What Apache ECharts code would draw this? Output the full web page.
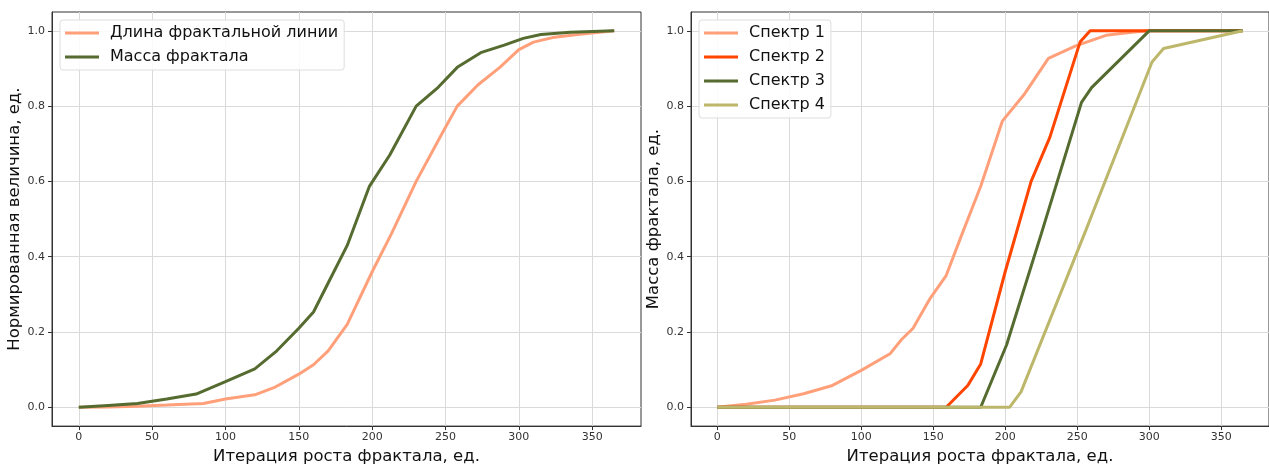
<!DOCTYPE html>
<html>
<head>
<meta charset="utf-8">
<script src="https://cdn.jsdelivr.net/npm/echarts@6/dist/echarts.min.js"></script>
<style>
html, body { margin: 0; padding: 0; background: #fff; }
#chart { width: 1269px; height: 470px; }
</style>
</head>
<body>
<div id="chart"></div>
<script>
// ticks
const xTicks = [0, 50, 100, 150, 200, 250, 300, 350];
const yTicks = [0, 0.2, 0.4, 0.6, 0.8, 1.0];

// left: normalized values
const lengthX = [0, 20, 40, 60, 85, 100, 120, 133, 150, 160, 170, 183, 200, 213, 230, 248, 258, 272, 287, 300, 310, 323, 340, 365];
const lengthY = [0, 0.001, 0.003, 0.006, 0.01, 0.022, 0.033, 0.052, 0.088, 0.113, 0.15, 0.22, 0.36, 0.46, 0.6, 0.73, 0.8, 0.856, 0.903, 0.95, 0.97, 0.982, 0.99, 1.0];
const massX = [0, 20, 40, 60, 80, 100, 120, 135, 150, 160, 170, 183, 198, 212, 230, 245, 258, 274, 290, 303, 315, 335, 365];
const massY = [0, 0.005, 0.01, 0.022, 0.035, 0.068, 0.102, 0.15, 0.21, 0.253, 0.33, 0.43, 0.586, 0.67, 0.8, 0.85, 0.903, 0.942, 0.962, 0.98, 0.99, 0.996, 1.0];

// right: spectra
const spec1X = [0, 20, 40, 60, 80, 100, 120, 128, 136, 148, 159, 170, 183, 198, 213, 230, 249, 270, 288, 300, 365];
const spec1Y = [0, 0.008, 0.019, 0.036, 0.058, 0.098, 0.142, 0.18, 0.21, 0.29, 0.35, 0.46, 0.587, 0.76, 0.83, 0.927, 0.96, 0.988, 0.996, 1.0, 1.0];
const spec2X = [0, 159, 174, 183, 200, 218, 231, 252, 259, 365];
const spec2Y = [0, 0, 0.058, 0.115, 0.36, 0.6, 0.717, 0.97, 1.0, 1.0];
const spec3X = [0, 183, 201, 225, 253, 260, 300, 365];
const spec3Y = [0, 0, 0.166, 0.46, 0.81, 0.849, 1.0, 1.0];
const spec4X = [0, 203, 211, 256, 302, 310, 365];
const spec4Y = [0, 0, 0.041, 0.47, 0.917, 0.953, 1.0];

const font = 'DejaVu Sans';
const pairs = (xs, ys) => xs.map((x, i) => [x, ys[i]]);

function xAxisOpt(idx) {
    return {
        type: 'value', gridIndex: idx, min: -18.25, max: 383.25,
        name: 'Итерация роста фрактала, ед.', nameLocation: 'middle', nameGap: 21,
        nameTextStyle: { fontFamily: font, fontSize: 16.5, color: '#111' },
        axisLine: { show: true, onZero: false, lineStyle: { color: '#333', width: 1 } },
        axisTick: { show: true, length: 4, customValues: xTicks, lineStyle: { color: '#333' } },
        axisLabel: { customValues: xTicks, margin: 6, fontFamily: font, fontSize: 11, color: '#333' },
        splitLine: { show: true, lineStyle: { color: '#dadada', width: 1 } }
    };
}
function yAxisOpt(idx, name) {
    return {
        type: 'value', gridIndex: idx, min: -0.05, max: 1.05,
        name: name, nameLocation: 'middle', nameGap: 26,
        nameTextStyle: { fontFamily: font, fontSize: 16.5, color: '#111' },
        axisLine: { show: true, onZero: false, lineStyle: { color: '#333', width: 1 } },
        axisTick: { show: true, length: 4, customValues: yTicks, lineStyle: { color: '#333' } },
        axisLabel: { customValues: yTicks, margin: 7, fontFamily: font, fontSize: 11, color: '#333',
            formatter: v => v.toFixed(1) },
        splitLine: { show: true, lineStyle: { color: '#dadada', width: 1 } }
    };
}
function line(name, data, color, idx) {
    return {
        type: 'line', name: name, data: data, xAxisIndex: idx, yAxisIndex: idx,
        showSymbol: false, symbol: 'none', animation: false,
        lineStyle: { color: color, width: 3 }, itemStyle: { color: color }
    };
}
function legendOpt(left, names) {
    return {
        left: left, top: 20, orient: 'vertical', data: names,
        icon: 'rect', itemWidth: 34, itemHeight: 3, itemGap: 4,
        padding: [3, 6, 3, 5],
        backgroundColor: 'rgba(255,255,255,0.85)', borderColor: '#dddddd', borderWidth: 1, borderRadius: 3,
        textStyle: { fontFamily: font, fontSize: 16, color: '#111', lineHeight: 20, padding: [0, 0, 0, 6] }
    };
}

let chart = echarts.init(document.getElementById('chart'));
let option = {
    backgroundColor: '#fff',
    animation: false,
    grid: [
        { left: 52, top: 12, width: 589, height: 423, show: true, borderColor: '#333', borderWidth: 1, backgroundColor: 'transparent' },
        { left: 691, top: 12, width: 589, height: 423, show: true, borderColor: '#333', borderWidth: 1, backgroundColor: 'transparent' }
    ],
    xAxis: [xAxisOpt(0), xAxisOpt(1)],
    yAxis: [yAxisOpt(0, 'Нормированная величина, ед.'), yAxisOpt(1, 'Масса фрактала, ед.')],
    legend: [
        legendOpt(60, ['Длина фрактальной линии', 'Масса фрактала']),
        legendOpt(699, ['Спектр 1', 'Спектр 2', 'Спектр 3', 'Спектр 4'])
    ],
    series: [
        line('Длина фрактальной линии', pairs(lengthX, lengthY), '#FFA07A', 0),
        line('Масса фрактала', pairs(massX, massY), '#556B2F', 0),
        line('Спектр 1', pairs(spec1X, spec1Y), '#FFA07A', 1),
        line('Спектр 2', pairs(spec2X, spec2Y), '#FF4500', 1),
        line('Спектр 3', pairs(spec3X, spec3Y), '#556B2F', 1),
        line('Спектр 4', pairs(spec4X, spec4Y), '#BDB76B', 1)
    ]
};
chart.setOption(option);
window.addEventListener('resize', () => { chart.resize() });
</script>
</body>
</html>
